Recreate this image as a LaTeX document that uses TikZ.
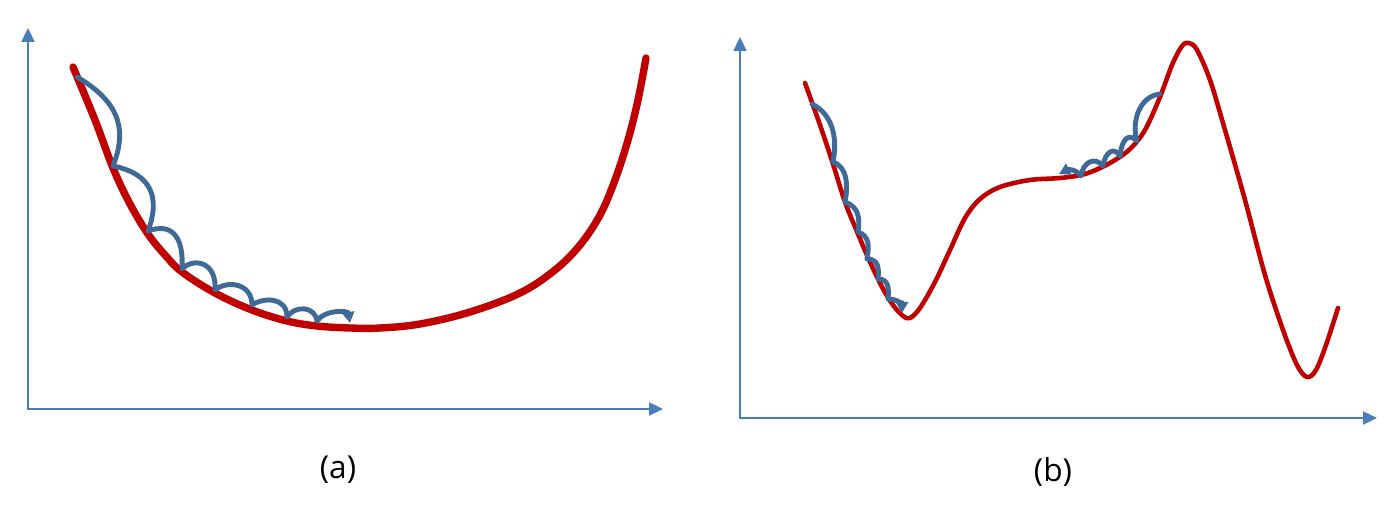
\documentclass[tikz,border=0pt]{standalone}
\usepackage{fontspec}
\setmainfont{Open Sans}
\usepackage{xcolor}
\usepackage{tikz}
\usetikzlibrary{arrows.meta, positioning}

\definecolor{axisblue}{HTML}{4A7EBB}
\definecolor{stepblue}{HTML}{3F6A98}
\definecolor{costred}{HTML}{C00000}

\begin{document}
\begin{tikzpicture}[
    x=0.02cm, y=-0.02cm,
    axis/.style={draw=axisblue, line width=1.3pt, {Triangle[length=0.28cm, width=0.26cm]}-{Triangle[length=0.28cm, width=0.26cm]}},
    cost/.style={draw=costred, line cap=round, line join=round},
    descent/.style={draw=stepblue, line width=2.8pt, line cap=round, line join=round, -{Triangle[length=0.22cm, width=0.24cm]}},
    caption/.style={font=\fontsize{18}{21}\selectfont, inner sep=0pt}
]
    \useasboundingbox (0,0) rectangle (1397,516);

    % Axes for (a)
    \coordinate (oA) at (28,409);
    \coordinate (yA) at (28,28);
    \coordinate (xA) at (663,409);
    \draw[axis] (yA) -- (oA) -- (xA);

    % Axes for (b)
    \coordinate (oB) at (740,418);
    \coordinate (yB) at (740,37);
    \coordinate (xB) at (1377,418);
    \draw[axis] (yB) -- (oB) -- (xB);

    % Convex cost curve (a)
    \draw[cost, line width=4.2pt] plot[smooth, tension=0.6] coordinates {
        (73,67) (95,120) (113,168) (130,204) (148,234) (165,255) (182,272)
        (215,293) (252,310) (287,321) (317,326) (350,328) (380,328) (420,324)
        (470,312) (520,293) (555,270) (580,245) (600,215) (615,180) (628,140)
        (638,100) (646,58)};

    % Steps on (a)
    \draw[descent] (77,77)
        .. controls (125,105) and (125,135) .. (113,166)
        .. controls +(40,8) and +(12,-32) .. (148,231)
        .. controls +(22,-8) and +(2,-35) .. (182,269)
        .. controls +(12,-12) and +(2,-28) .. (215,290)
        .. controls +(12,-10) and +(0,-22) .. (252,305)
        .. controls +(12,-8) and +(0,-20) .. (287,317)
        .. controls +(8,-12) and +(-2,-15) .. (317,321)
        .. controls +(8,-12) and +(-2,-12) .. (350,323);

    % Non-convex cost curve (b)
    \draw[cost, line width=2.6pt] plot[smooth, tension=0.55] coordinates {
        (805,83) (820,125) (833,164) (845,202) (858,234) (870,262) (882,287)
        (893,305) (903,316) (910,318) (920,308) (935,282) (950,250) (965,218)
        (980,199) (1000,187) (1030,180) (1060,178) (1085,174) (1110,163)
        (1130,149) (1145,130) (1160,97) (1172,65) (1182,46) (1189,43)
        (1197,50) (1210,80) (1225,130) (1245,200) (1265,275) (1283,330)
        (1297,365) (1307,377) (1316,370) (1326,345) (1338,308)};

    % Steps into the sharp minimum (b)
    \draw[descent] (812,104)
        .. controls +(20,10) and +(5,-25) .. (833,162)
        .. controls +(15,5) and +(3,-15) .. (845,202)
        .. controls +(14,5) and +(2,-14) .. (858,232)
        .. controls +(12,4) and +(2,-12) .. (867,259)
        .. controls +(12,0) and +(1,-10) .. (878,279)
        .. controls +(11,0) and +(1,-10) .. (888,299)
        .. controls +(10,0) and +(0,-8) .. (902,313);

    % Steps onto the plateau (b)
    \draw[descent] (1160,94)
        .. controls +(-20,2) and +(-6,-20) .. (1137,141)
        .. controls +(-8,-8) and +(2,-18) .. (1120,156)
        .. controls +(-6,-10) and +(2,-14) .. (1103,166)
        .. controls +(-8,-10) and +(2,-14) .. (1081,176)
        .. controls +(-6,-8) and +(8,-4) .. (1059,174);

    % Captions
    \node[caption] (capA) at (338,470) {(a)};
    \node[caption] (capB) at (1053,472) {(b)};
\end{tikzpicture}
\end{document}
